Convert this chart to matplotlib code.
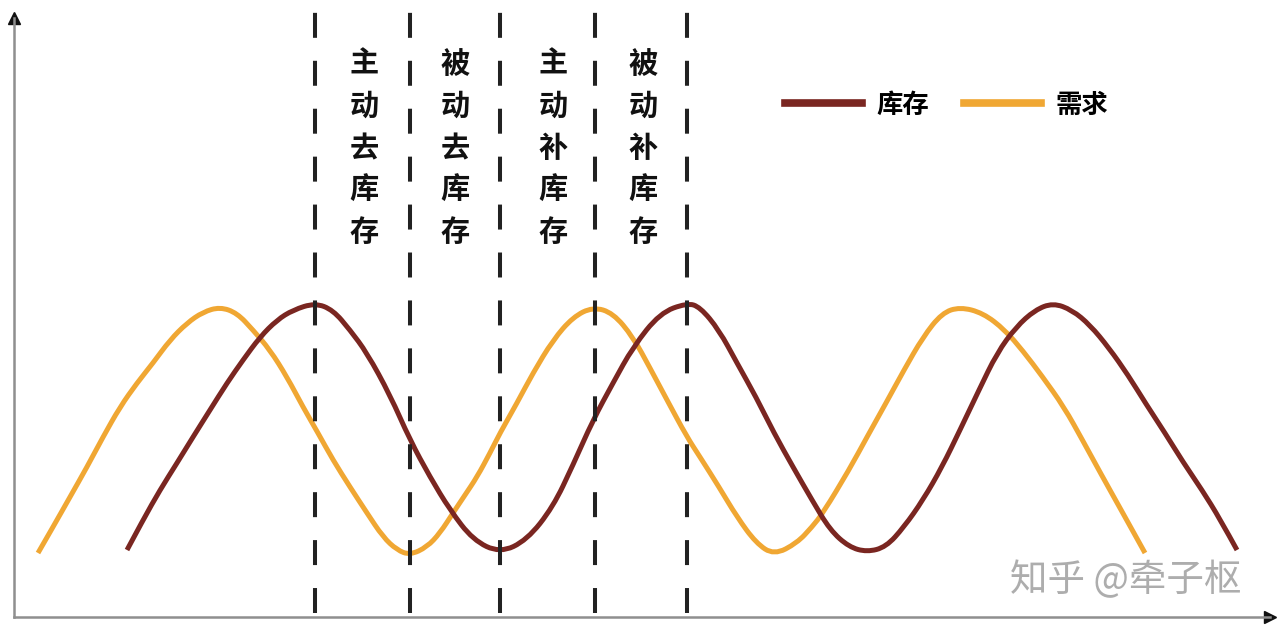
import matplotlib
matplotlib.use('Agg')
import matplotlib.pyplot as plt
from matplotlib.lines import Line2D
from matplotlib.path import Path
from matplotlib.patches import PathPatch

plt.rcParams['font.family'] = ['Noto Sans CJK SC', 'DejaVu Sans']

# demand curve (需求)
demand_x = [24, 39, 56, 73, 89, 106, 123, 139, 156, 173, 189, 206, 223, 239, 256, 273,
            289, 304, 319, 336, 353, 369, 383, 396, 413, 426, 439, 451, 463, 476, 486,
            503, 519, 539, 559, 579, 599, 619, 636, 653, 673, 686, 705, 723, 742, 760,
            783, 798, 809, 835, 853, 872, 890, 909, 928, 946, 969, 991, 1009, 1028,
            1050, 1069, 1087, 1106, 1121, 1131]
demand_y = [64, 90, 120, 150, 180, 210, 234, 254, 277, 294, 305, 310, 304, 287, 267, 240,
            210, 184, 157, 130, 104, 80, 67, 62, 70, 84, 104, 122, 140, 164, 184,
            214, 244, 277, 300, 310, 304, 280, 249, 217, 180, 160, 130, 100, 74, 62,
            74, 90, 104, 147, 180, 214, 247, 280, 304, 310, 304, 287, 266, 241,
            210, 176, 143, 109, 82, 64]

# inventory curve (库存)
stock_x = [113, 129, 146, 163, 179, 196, 213, 229, 246, 263, 279, 301, 319, 336, 353,
           376, 396, 416, 436, 459, 486, 513, 539, 559, 579, 599, 619, 646, 673, 686,
           705, 723, 742, 760, 779, 798, 816, 835, 853, 872, 890, 909, 928, 946, 965,
           983, 1002, 1021, 1039, 1058, 1076, 1095, 1114, 1132, 1151, 1169, 1188, 1206,
           1223]
stock_y = [67, 97, 127, 154, 180, 207, 234, 257, 280, 297, 307, 314, 307, 287, 264,
           222, 177, 140, 107, 77, 64, 77, 110, 152, 197, 234, 270, 304, 314, 310,
           287, 254, 220, 184, 150, 117, 87, 70, 65, 70, 90, 117, 150, 187, 227,
           264, 290, 307, 314, 307, 292, 269, 242, 213, 184, 155, 127, 98, 67]

# phase boundaries and labels
phase_x = [301, 396, 486, 581, 673]
phase_labels = ['主动去库存', '被动去库存', '主动补库存', '被动补库存']
label_x = [350, 441, 539, 629]

stock_color = '#7a2621'
demand_color = '#f0a733'


def smooth_path(xs, ys):
    # quadratic bezier through the read points, points act as control points
    pts = list(zip(xs, ys))
    verts = [pts[0]]
    codes = [Path.MOVETO]
    for i in range(1, len(pts) - 1):
        nxt = pts[i + 1] if i == len(pts) - 2 else (
            (pts[i][0] + pts[i + 1][0]) / 2, (pts[i][1] + pts[i + 1][1]) / 2)
        verts += [pts[i], nxt]
        codes += [Path.CURVE3, Path.CURVE3]
    return Path(verts, codes)


fig = plt.figure(figsize=(12.8, 6.32), dpi=100)
ax = fig.add_axes([14 / 1280, 15 / 632, 1256 / 1280, 599 / 632])
ax.set_xlim(0, 1256)
ax.set_ylim(0, 599)

ax.add_patch(PathPatch(smooth_path(demand_x, demand_y), facecolor='none',
                       edgecolor=demand_color, lw=3.6, capstyle='butt', zorder=3))
ax.add_patch(PathPatch(smooth_path(stock_x, stock_y), facecolor='none',
                       edgecolor=stock_color, lw=3.6, capstyle='butt', zorder=4))

ax.vlines(phase_x, 4, 605, colors='#222222', lw=2.9, linestyles=(0, (6.2, 5.7)),
          clip_on=False, zorder=5)

for lx, lab in zip(label_x, phase_labels):
    ax.text(lx, 568, '\n'.join(lab), ha='center', va='top', fontsize=21,
            fontweight='bold', color='#111111', linespacing=1.5)

# axes with arrows
for side in ['top', 'right']:
    ax.spines[side].set_visible(False)
for side in ['left', 'bottom']:
    ax.spines[side].set_color('#8f8f8f')
    ax.spines[side].set_linewidth(1.8)
ax.set_xticks([])
ax.set_yticks([])
ax.plot(1, 0, '>', color='#111111', ms=9, transform=ax.transAxes, clip_on=False)
ax.plot(0, 1, '^', color='#111111', ms=9, transform=ax.transAxes, clip_on=False)

handles = [Line2D([], [], color=stock_color, lw=5.5),
           Line2D([], [], color=demand_color, lw=5.5)]
fig.legend(handles, ['库存', '需求'], loc='center left',
           bbox_to_anchor=(785 / 1280, 1 - 105 / 632), ncol=2, frameon=False,
           prop={'size': 19, 'weight': 'bold'}, handlelength=2.9, handletextpad=0.55,
           columnspacing=1.35, borderpad=0, borderaxespad=0)

fig.text(1010 / 1280, 1 - 581 / 632, '知乎 @牵子枢', fontsize=27, color='#adadad',
         ha='left', va='center')

fig.savefig('out.png', dpi=100, facecolor='white')
